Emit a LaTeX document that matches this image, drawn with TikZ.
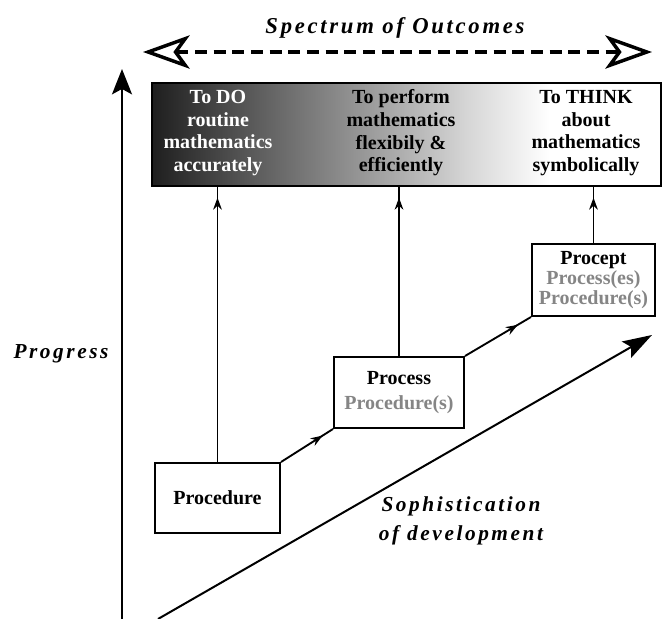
\documentclass[tikz,border=0pt]{standalone}
\usepackage{fontspec}
\setmainfont{Liberation Serif}
\usetikzlibrary{arrows.meta,decorations.markings}
\colorlet{faded}{black!48}
\pgfdeclarehorizontalshading{outshade}{100bp}{color(0bp)=(black!88); color(25bp)=(black!88); color(36bp)=(black!62); color(46bp)=(black!40); color(56bp)=(black!16); color(64bp)=(white); color(100bp)=(white)}
\newcommand{\spaced}{\addfontfeatures{LetterSpace=12}}

\begin{document}
\begin{tikzpicture}[x=0.75pt,y=-0.75pt,
  stage/.style={draw,line width=1.5pt,inner sep=0pt,align=center,font=\bfseries\fontsize{15}{15}\selectfont},
  outtext/.style={align=center,font=\bfseries\fontsize{15}{17}\selectfont},
  lbl/.style={font=\bfseries\itshape\fontsize{16}{22}\selectfont\spaced},
  link/.style={line width=1.4pt,postaction={decorate},
    decoration={markings,mark=at position 0.8 with {\arrow{Stealth[length=9pt,width=6.5pt]}}}},
  uplink/.style={line width=1.4pt,postaction={decorate},
    decoration={markings,mark=at position -8pt with {\arrow{Stealth[length=9pt,width=6.5pt]}}}}]
  \useasboundingbox (0,0) rectangle (662,619);

  \node[draw,line width=1.5pt,shade,shading=outshade,inner sep=0pt,
        minimum width=381.75pt,minimum height=77.25pt] (outcomes) at (406.5,134.5) {};
  \node[outtext,text=white] (do) at (218,133) {To DO\\routine\\mathematics\\accurately};
  \node[outtext] (perform) at (401,133) {To perform\\mathematics\\flexibily \&\\efficiently};
  \node[outtext] (think) at (586,133) {To THINK\\about\\mathematics\\symbolically};

  \node[stage,minimum width=93.75pt,minimum height=52.5pt] (procedure) at (217.5,498) {Procedure};
  \node[stage,minimum width=97.5pt,minimum height=53.25pt,font=\bfseries\fontsize{15}{19}\selectfont]
       (process) at (399,392.5) {Process\\\textcolor{faded}{Procedure(s)}};
  \node[stage,minimum width=92.25pt,minimum height=54pt] (procept) at (593.5,280)
       {Procept\\\textcolor{faded}{Process(es)}\\\textcolor{faded}{Procedure(s)}};

  \foreach \s in {procedure,process,procept}
    \draw[uplink] (\s.north) -- (\s.north |- outcomes.south);
  \draw[link] (procedure.north east) -- (process.south west);
  \draw[link] (process.north east) -- (procept.south west);

  \coordinate (vfoot) at (122,619);
  \coordinate (vtop) at (122,69);
  \draw[line width=1.5pt,-{Stealth[length=19pt,width=15pt,inset=4pt]}] (vfoot) -- (vtop);
  \coordinate (dfoot) at (158,619);
  \coordinate (dtip) at (652,335);
  \draw[line width=1.5pt,-{Stealth[length=22pt,width=14pt,inset=4pt]}] (dfoot) -- (dtip);

  \coordinate (sleft) at (143,52);
  \coordinate (sright) at (652,52);
  \draw[line width=2.8pt,dash pattern=on 9pt off 5pt,
        {Stealth[open,length=35pt,width=25pt,inset=9pt,line width=2.6pt]}-{Stealth[open,length=35pt,width=25pt,inset=9pt,line width=2.6pt]}]
        (sleft) -- (sright);

  \node[lbl,anchor=base,font=\bfseries\itshape\fontsize{17}{22}\selectfont\spaced] (spectrum) at (395,33) {Spectrum of Outcomes};
  \node[lbl,anchor=base] (progress) at (61,358) {Progress};
  \node[lbl,align=center] (sophist) at (461,521) {Sophistication\\of development};
\end{tikzpicture}
\end{document}
